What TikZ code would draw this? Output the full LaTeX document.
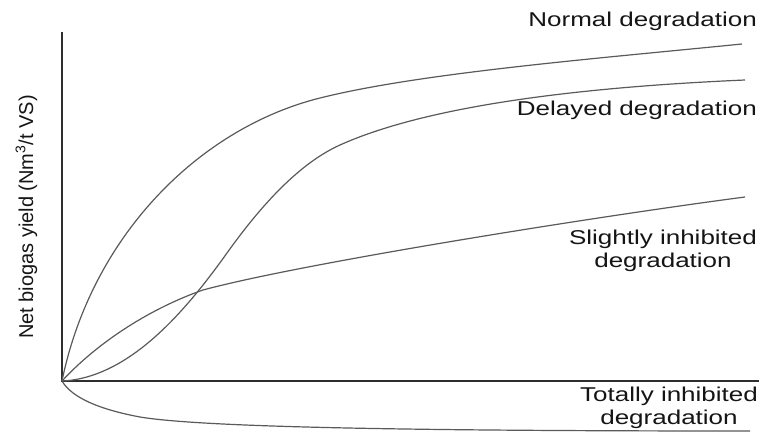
\documentclass[tikz,border=0pt]{standalone}
\usepackage{fontspec}
\setmainfont{Liberation Sans}
\newfontfamily\widefont[FakeStretch=1.3]{Liberation Sans}
\definecolor{axiscol}{HTML}{2E2E2E}
\definecolor{curvecol}{HTML}{5A5A5A}
\definecolor{textcol}{HTML}{151515}
\begin{document}
\begin{tikzpicture}[x=1pt,y=-1pt,
  axisline/.style={draw=axiscol,line width=1.8pt},
  curveline/.style={draw=curvecol,line width=1.2pt},
  lbl/.style={text=textcol,inner sep=0pt,font=\widefont\fontsize{20}{23}\selectfont,align=center},
  ylbl/.style={text=textcol,inner sep=0pt,font=\fontsize{20}{23}\selectfont,rotate=90}]
\useasboundingbox (0,0) rectangle (761,433);
\fill[white] (0,0) rectangle (761,433);
% axes
\coordinate (O) at (62,381);
\coordinate (ytop) at (62,32);
\coordinate (xend) at (759,381);
\draw[axisline] (ytop) -- (O) -- (xend);
% curve end points
\coordinate (nA) at (320,98);
\coordinate (nEnd) at (742,44);
\coordinate (dA) at (227,253);
\coordinate (dB) at (340,145);
\coordinate (dEnd) at (745,80);
\coordinate (sA) at (203,290);
\coordinate (sEnd) at (745,197);
\coordinate (tA) at (140,417);
\coordinate (tEnd) at (750,431);
% normal degradation
\draw[curveline] (O) .. controls (92,235) and (200,128) .. (nA)
  .. controls (420,73) and (592,59) .. (nEnd);
% delayed degradation
\draw[curveline] (O) .. controls (130,378) and (187,309) .. (dA)
  .. controls (262,204) and (300,163) .. (dB)
  .. controls (420,109) and (560,88) .. (dEnd);
% slightly inhibited degradation
\draw[curveline] (O) .. controls (100,340) and (153,307.5) .. (sA)
  .. controls (303,263) and (600,216) .. (sEnd);
% totally inhibited degradation
\draw[curveline] (O) .. controls (72,398) and (100,409.5) .. (tA)
  .. controls (200,427) and (400,431) .. (tEnd);
% labels
\node[lbl,anchor=base east] (normal) at (757,27) {Normal degradation};
\node[lbl,anchor=base east] (delayed) at (757,116) {Delayed degradation};
\node[lbl,anchor=north] (slight) at (663,230) {Slightly inhibited\\degradation};
\node[lbl,anchor=north] (total) at (669,387) {Totally inhibited\\degradation};
\node[ylbl,anchor=base] (ylabel) at (33,217) {Net biogas yield (Nm\textsuperscript{3}/t VS)};
\end{tikzpicture}
\end{document}
